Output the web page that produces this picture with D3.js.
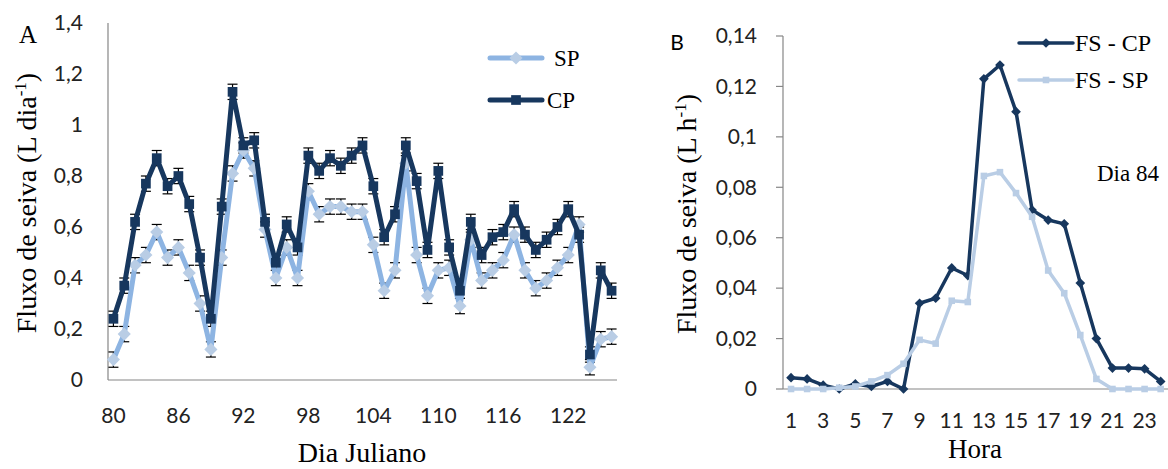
<!DOCTYPE html>
<html>
<head>
<meta charset="utf-8">
<script src="https://cdn.jsdelivr.net/npm/d3@7"></script>
<style>
  body { margin: 0; background: #fff; }
  svg { display: block; }
</style>
</head>
<body>
<svg id="chart" width="1168" height="469"></svg>
<script>
// painel A - fluxo diario
const dias = d3.range(80, 127);
const spDia = [0.08, 0.18, 0.45, 0.49, 0.58, 0.48, 0.52, 0.42, 0.30, 0.12, 0.48, 0.81,
  0.90, 0.83, 0.59, 0.40, 0.52, 0.40, 0.74, 0.65, 0.68, 0.68, 0.66, 0.66,
  0.53, 0.35, 0.43, 0.85, 0.49, 0.33, 0.43, 0.44, 0.29, 0.55, 0.39, 0.43,
  0.47, 0.57, 0.43, 0.36, 0.39, 0.44, 0.49, 0.61, 0.05, 0.16, 0.17];
const cpDia = [0.24, 0.37, 0.62, 0.77, 0.87, 0.76, 0.80, 0.69, 0.48, 0.24, 0.68, 1.13,
  0.92, 0.94, 0.62, 0.46, 0.61, 0.52, 0.88, 0.82, 0.87, 0.84, 0.88, 0.92,
  0.76, 0.56, 0.65, 0.92, 0.78, 0.51, 0.82, 0.52, 0.35, 0.62, 0.49, 0.56,
  0.58, 0.67, 0.57, 0.51, 0.55, 0.60, 0.67, 0.57, 0.10, 0.43, 0.35];
const erroDia = 0.03;
const ticksA = [0, 0.2, 0.4, 0.6, 0.8, 1, 1.2, 1.4];
const labelsXA = [80, 86, 92, 98, 104, 110, 116, 122];

// painel B - fluxo horario no dia 84
const horas = d3.range(1, 25);
const fsCP = [0.0045, 0.004, 0.0015, 0, 0.002, 0.001, 0.003, 0, 0.034, 0.036, 0.048, 0.045,
  0.123, 0.1285, 0.110, 0.071, 0.067, 0.0655, 0.042, 0.020, 0.0083, 0.0083, 0.008, 0.003];
const fsSP = [0, 0, 0, 0.0005, 0.001, 0.003, 0.0055, 0.010, 0.0195, 0.018, 0.035, 0.0345,
  0.0845, 0.086, 0.0777, 0.0683, 0.047, 0.038, 0.0214, 0.004, 0, 0, 0, 0];
const ticksB = [0, 0.02, 0.04, 0.06, 0.08, 0.1, 0.12, 0.14];
const labelsXB = [1, 3, 5, 7, 9, 11, 13, 15, 17, 19, 21, 23];

const escuro = "#17375E";
const claroLinha = "#8DB4E2";
const claro = "#B9CDE5";
const serif = "'Liberation Serif', 'Times New Roman', serif";
const sans = "Lato, 'Open Sans', sans-serif";
const fmt = v => String(v).replace(".", ",");

const svg = d3.select("#chart");

// ---------- Painel A ----------
const gA = svg.append("g");
const xA = d3.scalePoint().domain(dias).range([108, 617]).padding(0.5);
const yA = d3.scaleLinear().domain([0, 1.4]).range([380, 23]);

gA.append("line").attr("x1", 108).attr("x2", 108).attr("y1", 23).attr("y2", 380)
  .attr("stroke", "#868686").attr("stroke-width", 1.2);
gA.append("line").attr("x1", 108).attr("x2", 617).attr("y1", 380).attr("y2", 380)
  .attr("stroke", "#868686").attr("stroke-width", 1.2);

gA.selectAll(".ytA").data(ticksA).enter().append("text")
  .attr("x", 83).attr("y", d => yA(d)).attr("dy", "0.35em")
  .attr("text-anchor", "end").style("font-family", sans).style("font-size", "21px")
  .attr("fill", "#222").text(fmt);

gA.selectAll(".xtA").data(labelsXA).enter().append("text")
  .attr("x", d => xA(d)).attr("y", 423)
  .attr("text-anchor", "middle").style("font-family", sans).style("font-size", "21px")
  .attr("fill", "#222").text(d => d);

gA.append("text").attr("x", 362).attr("y", 462).attr("text-anchor", "middle")
  .style("font-family", serif).style("font-size", "28px").text("Dia Juliano");

const tA = gA.append("text").attr("transform", "translate(36,203) rotate(-90)")
  .attr("text-anchor", "middle").style("font-family", serif).style("font-size", "28px");
tA.append("tspan").text("Fluxo de seiva (L dia");
tA.append("tspan").attr("dy", "-10").style("font-size", "17px").text("-1");
tA.append("tspan").attr("dy", "10").text(")");

gA.append("text").attr("x", 28).attr("y", 43).attr("text-anchor", "middle")
  .style("font-family", serif).style("font-size", "25px").text("A");

// barras de erro
function errorBars(values) {
  const eb = gA.append("g").attr("stroke", "#000").attr("stroke-width", 1.2);
  values.forEach((v, i) => {
    const x = xA(dias[i]);
    const y0 = yA(Math.max(0, v - erroDia)), y1 = yA(v + erroDia);
    eb.append("line").attr("x1", x).attr("x2", x).attr("y1", y0).attr("y2", y1);
    eb.append("line").attr("x1", x - 5).attr("x2", x + 5).attr("y1", y0).attr("y2", y0);
    eb.append("line").attr("x1", x - 5).attr("x2", x + 5).attr("y1", y1).attr("y2", y1);
  });
}
errorBars(spDia);
errorBars(cpDia);

const lineA = d3.line().x((d, i) => xA(dias[i])).y(d => yA(d));
const diamond = d3.symbol().type(d3.symbolDiamond2);
const square = d3.symbol().type(d3.symbolSquare2);

gA.append("path").datum(spDia).attr("d", lineA).attr("fill", "none")
  .attr("stroke", claroLinha).attr("stroke-width", 5).attr("stroke-linejoin", "round");
gA.selectAll(".mSP").data(spDia).enter().append("path")
  .attr("d", diamond.size(110)())
  .attr("transform", (d, i) => `translate(${xA(dias[i])},${yA(d)})`)
  .attr("fill", claro);

gA.append("path").datum(cpDia).attr("d", lineA).attr("fill", "none")
  .attr("stroke", escuro).attr("stroke-width", 5).attr("stroke-linejoin", "round");
gA.selectAll(".mCP").data(cpDia).enter().append("path")
  .attr("d", square.size(120)())
  .attr("transform", (d, i) => `translate(${xA(dias[i])},${yA(d)})`)
  .attr("fill", escuro);

// legenda A
const legA = gA.append("g");
legA.append("line").attr("x1", 490).attr("x2", 542).attr("y1", 58).attr("y2", 58)
  .attr("stroke", claroLinha).attr("stroke-width", 5).attr("stroke-linecap", "round");
legA.append("path").attr("d", diamond.size(110)()).attr("transform", "translate(516,58)").attr("fill", claro);
legA.append("text").attr("x", 554).attr("y", 58).attr("dy", "0.35em")
  .style("font-family", serif).style("font-size", "23px").text("SP");
legA.append("line").attr("x1", 490).attr("x2", 542).attr("y1", 100).attr("y2", 100)
  .attr("stroke", escuro).attr("stroke-width", 5).attr("stroke-linecap", "round");
legA.append("path").attr("d", square.size(120)()).attr("transform", "translate(516,100)").attr("fill", escuro);
legA.append("text").attr("x", 547).attr("y", 100).attr("dy", "0.35em")
  .style("font-family", serif).style("font-size", "23px").text("CP");

// ---------- Painel B ----------
const gB = svg.append("g");
const xB = d3.scalePoint().domain(horas).range([783, 1168.7]).padding(0.5);
const yB = d3.scaleLinear().domain([0, 0.14]).range([389, 36]);

gB.append("line").attr("x1", 783).attr("x2", 783).attr("y1", 36).attr("y2", 389)
  .attr("stroke", "#868686").attr("stroke-width", 1.2);
gB.append("line").attr("x1", 783).attr("x2", 1168).attr("y1", 389).attr("y2", 389)
  .attr("stroke", "#868686").attr("stroke-width", 1.2);
gB.selectAll(".tkB").data(ticksB).enter().append("line")
  .attr("x1", 776).attr("x2", 783).attr("y1", d => yB(d)).attr("y2", d => yB(d))
  .attr("stroke", "#868686").attr("stroke-width", 1.2);

gB.selectAll(".ytB").data(ticksB).enter().append("text")
  .attr("x", 757).attr("y", d => yB(d)).attr("dy", "0.35em")
  .attr("text-anchor", "end").style("font-family", sans).style("font-size", "21px")
  .attr("fill", "#222").text(fmt);

gB.selectAll(".xtB").data(labelsXB).enter().append("text")
  .attr("x", d => xB(d)).attr("y", 428)
  .attr("text-anchor", "middle").style("font-family", sans).style("font-size", "21px")
  .attr("fill", "#222").text(d => d);

gB.append("text").attr("x", 975).attr("y", 458).attr("text-anchor", "middle")
  .style("font-family", serif).style("font-size", "27px").text("Hora");

const tB = gB.append("text").attr("transform", "translate(696,214) rotate(-90)")
  .attr("text-anchor", "middle").style("font-family", serif).style("font-size", "28px");
tB.append("tspan").text("Fluxo de seiva (L h");
tB.append("tspan").attr("dy", "-10").style("font-size", "17px").text("-1");
tB.append("tspan").attr("dy", "10").text(")");

gB.append("text").attr("x", 677).attr("y", 50).attr("text-anchor", "middle")
  .style("font-family", sans).style("font-size", "21px").text("B");

gB.append("text").attr("x", 1097).attr("y", 173).attr("dy", "0.35em")
  .style("font-family", serif).style("font-size", "23px").text("Dia 84");

const lineB = d3.line().x((d, i) => xB(horas[i])).y(d => yB(d));

gB.append("path").datum(fsCP).attr("d", lineB).attr("fill", "none")
  .attr("stroke", escuro).attr("stroke-width", 3.5).attr("stroke-linejoin", "round");
gB.selectAll(".mFC").data(fsCP).enter().append("path")
  .attr("d", diamond.size(60)())
  .attr("transform", (d, i) => `translate(${xB(horas[i])},${yB(d)})`)
  .attr("fill", escuro);

gB.append("path").datum(fsSP).attr("d", lineB).attr("fill", "none")
  .attr("stroke", claro).attr("stroke-width", 3.5).attr("stroke-linejoin", "round");
gB.selectAll(".mFS").data(fsSP).enter().append("path")
  .attr("d", square.size(55)())
  .attr("transform", (d, i) => `translate(${xB(horas[i])},${yB(d)})`)
  .attr("fill", claro);

// legenda B
const legB = gB.append("g");
legB.append("line").attr("x1", 1019).attr("x2", 1073).attr("y1", 43).attr("y2", 43)
  .attr("stroke", escuro).attr("stroke-width", 3.5).attr("stroke-linecap", "round");
legB.append("path").attr("d", diamond.size(60)()).attr("transform", "translate(1046,43)").attr("fill", escuro);
legB.append("text").attr("x", 1075).attr("y", 43).attr("dy", "0.35em")
  .style("font-family", serif).style("font-size", "24px").text("FS - CP");
legB.append("line").attr("x1", 1019).attr("x2", 1073).attr("y1", 80).attr("y2", 80)
  .attr("stroke", claro).attr("stroke-width", 3.5).attr("stroke-linecap", "round");
legB.append("path").attr("d", square.size(55)()).attr("transform", "translate(1046,80)").attr("fill", claro);
legB.append("text").attr("x", 1075).attr("y", 80).attr("dy", "0.35em")
  .style("font-family", serif).style("font-size", "24px").text("FS - SP");
</script>
</body>
</html>
